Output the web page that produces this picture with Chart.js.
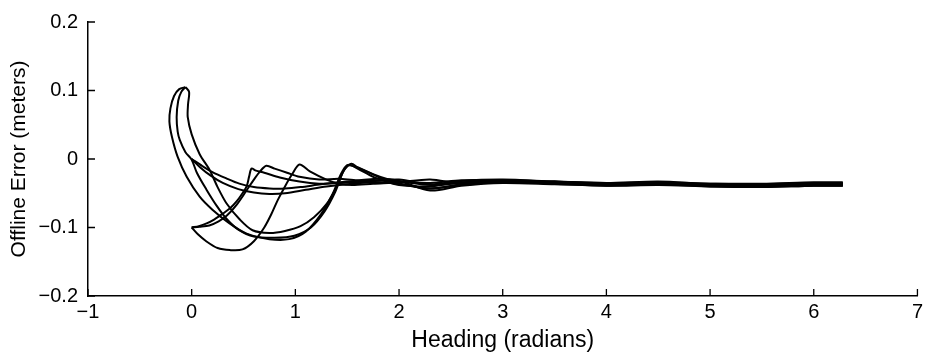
<!DOCTYPE html>
<html>
<head>
<meta charset="utf-8">
<script src="https://cdn.jsdelivr.net/npm/chart.js@4"></script>
<style>
  html, body { margin: 0; padding: 0; background: #fff; }
  canvas { display: block; }
</style>
</head>
<body>
<canvas id="chart" width="927" height="360"></canvas>
<script>
// axis ticks
const xTicks = [-1, 0, 1, 2, 3, 4, 5, 6, 7];
const xTickLabels = ['\u22121', '0', '1', '2', '3', '4', '5', '6', '7'];
const yTicks = [-0.2, -0.1, 0, 0.1, 0.2];
const yTickLabels = ['\u22120.2', '\u22120.1', '0', '0.1', '0.2'];

// runs, [heading, offline error]
const hookOuter = [[-0.06,0.105],[-0.12,0.102],[-0.17,0.092],[-0.205,0.074],[-0.215,0.055],[-0.19,0.032],[-0.135,0.003],[-0.048,-0.026],[0.077,-0.055],[0.2,-0.074],[0.365,-0.094],[0.53,-0.109],[0.75,-0.117],[0.94,-0.117],[1.1,-0.106],[1.25,-0.08],[1.36,-0.051],[1.44,-0.022],[1.5,-0.009],[1.57,-0.011],[1.71,-0.02],[1.86,-0.03],[2.0,-0.036],[2.3,-0.043],[2.6,-0.038],[3.0,-0.034],[3.5,-0.036],[4.0,-0.039],[4.5,-0.038],[5.0,-0.04],[5.5,-0.041],[6.0,-0.039],[6.28,-0.039]];
const hookMiddle = [[-0.06,0.105],[-0.1,0.098],[-0.13,0.085],[-0.145,0.061],[-0.135,0.04],[-0.115,0.028],[-0.06,0.01],[0,-0.001],[0.05,-0.02],[0.14,-0.044],[0.24,-0.068],[0.34,-0.088],[0.45,-0.103],[0.6,-0.113],[0.8,-0.115],[0.99,-0.112],[1.15,-0.1],[1.28,-0.077],[1.385,-0.048],[1.46,-0.019],[1.52,-0.009],[1.6,-0.014],[1.75,-0.026],[1.9,-0.034],[2.0,-0.038],[2.3,-0.04],[2.6,-0.034],[3.0,-0.033],[3.5,-0.035],[4.0,-0.036],[4.5,-0.035],[5.0,-0.038],[5.5,-0.038],[6.0,-0.036],[6.28,-0.036]];
const hookInner = [[-0.06,0.105],[-0.025,0.098],[-0.035,0.08],[-0.038,0.061],[0,0.036],[0.077,0.007],[0.173,-0.016],[0.25,-0.041],[0.337,-0.065],[0.462,-0.088],[0.587,-0.104],[0.75,-0.108],[0.9,-0.105],[1.05,-0.098],[1.18,-0.085],[1.3,-0.066],[1.4,-0.04],[1.47,-0.016],[1.54,-0.007],[1.6,-0.012],[1.75,-0.022],[1.9,-0.03],[2.0,-0.033],[2.3,-0.035],[2.6,-0.031],[3.0,-0.031],[3.5,-0.033],[4.0,-0.035],[4.5,-0.034],[5.0,-0.036],[5.5,-0.037],[6.0,-0.035],[6.28,-0.035]];
const startLowA = [[0,-0.1],[0.07,-0.098],[0.144,-0.094],[0.22,-0.088],[0.298,-0.08],[0.37,-0.072],[0.433,-0.062],[0.49,-0.05],[0.53,-0.04],[0.555,-0.025],[0.577,-0.014],[0.62,-0.017],[0.7,-0.02],[0.85,-0.027],[1.04,-0.033],[1.23,-0.036],[1.42,-0.035],[1.7,-0.033],[2.0,-0.03],[2.3,-0.037],[2.6,-0.032],[3.0,-0.03],[3.5,-0.033],[4.0,-0.035],[4.5,-0.033],[5.0,-0.036],[5.5,-0.036],[6.0,-0.034],[6.28,-0.034]];
const startLowB = [[0,-0.1],[0.077,-0.099],[0.17,-0.097],[0.26,-0.091],[0.337,-0.083],[0.433,-0.067],[0.529,-0.046],[0.6,-0.03],[0.66,-0.018],[0.72,-0.01],[0.8,-0.014],[0.92,-0.02],[1.04,-0.026],[1.23,-0.03],[1.42,-0.029],[1.6,-0.031],[1.8,-0.029],[2.0,-0.032],[2.3,-0.046],[2.6,-0.039],[3.0,-0.035],[3.5,-0.037],[4.0,-0.039],[4.5,-0.037],[5.0,-0.04],[5.5,-0.041],[6.0,-0.039],[6.28,-0.039]];
const startLowC = [[0,-0.1],[0.06,-0.11],[0.14,-0.12],[0.25,-0.13],[0.37,-0.133],[0.49,-0.132],[0.6,-0.12],[0.7,-0.1],[0.77,-0.08],[0.83,-0.06],[0.9,-0.04],[0.97,-0.022],[1.04,-0.008],[1.14,-0.018],[1.3,-0.03],[1.42,-0.036],[1.55,-0.038],[1.75,-0.036],[2.0,-0.034],[2.3,-0.03],[2.6,-0.036],[3.0,-0.032],[3.5,-0.034],[4.0,-0.037],[4.5,-0.036],[5.0,-0.038],[5.5,-0.039],[6.0,-0.037],[6.28,-0.036]];
const startZeroA = [[0,0],[0.1,-0.01],[0.2,-0.019],[0.33,-0.028],[0.46,-0.036],[0.6,-0.041],[0.75,-0.043],[0.9,-0.043],[1.05,-0.041],[1.25,-0.037],[1.5,-0.033],[1.75,-0.031],[2.0,-0.033],[2.3,-0.038],[2.6,-0.035],[3.0,-0.031],[3.5,-0.033],[4.0,-0.036],[4.5,-0.035],[5.0,-0.037],[5.5,-0.038],[6.0,-0.036],[6.28,-0.036]];
const startZeroB = [[0,0],[0.08,-0.012],[0.18,-0.024],[0.3,-0.035],[0.45,-0.044],[0.6,-0.049],[0.75,-0.051],[0.9,-0.05],[1.1,-0.045],[1.3,-0.04],[1.55,-0.036],[1.8,-0.034],[2.0,-0.036],[2.3,-0.043],[2.6,-0.037],[3.0,-0.033],[3.5,-0.035],[4.0,-0.037],[4.5,-0.036],[5.0,-0.038],[5.5,-0.039],[6.0,-0.037],[6.28,-0.038]];

const runs = [hookOuter, hookMiddle, hookInner, startLowA, startLowB, startLowC, startZeroA, startZeroB];

// ticks pointing into the plot, like the original
const inwardTicks = {
  id: 'inwardTicks',
  afterDraw(chart) {
    const {ctx, chartArea: {left, bottom}, scales: {x, y}} = chart;
    ctx.save();
    ctx.strokeStyle = '#000';
    ctx.lineWidth = 1.3;
    ctx.beginPath();
    xTicks.forEach(v => {
      const px = x.getPixelForValue(v);
      ctx.moveTo(px, bottom);
      ctx.lineTo(px, bottom - 7);
    });
    yTicks.forEach(v => {
      const py = y.getPixelForValue(v);
      ctx.moveTo(left, py);
      ctx.lineTo(left + 7, py);
    });
    ctx.stroke();
    ctx.restore();
  }
};

const family = '"Liberation Sans", Arial, sans-serif';
const tickFont = { family: family, size: 20 };

new Chart(document.getElementById('chart'), {
  type: 'scatter',
  data: {
    datasets: runs.map(r => ({
      data: r.map(p => ({ x: p[0], y: p[1] })),
      showLine: true,
      borderColor: '#000',
      borderWidth: 2,
      pointRadius: 0,
      tension: 0.3,
      fill: false
    }))
  },
  options: {
    responsive: false,
    animation: false,
    layout: { padding: { top: 22, right: 7, left: 0, bottom: 0 } },
    plugins: {
      legend: { display: false },
      tooltip: { enabled: false }
    },
    scales: {
      x: {
        type: 'linear',
        min: -1,
        max: 7,
        afterBuildTicks: s => { s.ticks = xTicks.map(v => ({ value: v })); },
        afterFit: s => { s.height = 64; },
        ticks: {
          color: '#000',
          font: tickFont,
          padding: 4,
          maxRotation: 0,
          callback: (v, i) => xTickLabels[i]
        },
        grid: { display: true, drawOnChartArea: false, drawTicks: false },
        border: { display: true, color: '#000', width: 1.5 },
        title: {
          display: true,
          text: 'Heading (radians)',
          color: '#000',
          font: { family: family, size: 23 },
          padding: { top: 0, bottom: 6 }
        }
      },
      y: {
        type: 'linear',
        min: -0.2,
        max: 0.2,
        afterBuildTicks: s => { s.ticks = yTicks.map(v => ({ value: v })); },
        afterFit: s => { s.width = 88; },
        ticks: {
          color: '#000',
          font: tickFont,
          padding: 10,
          callback: (v, i) => yTickLabels[i]
        },
        grid: { display: true, drawOnChartArea: false, drawTicks: false },
        border: { display: true, color: '#000', width: 1.5 },
        title: {
          display: true,
          text: 'Offline Error (meters)',
          color: '#000',
          font: { family: family, size: 21 },
          padding: { top: 7, bottom: 0 }
        }
      }
    }
  },
  plugins: [inwardTicks]
});
</script>
</body>
</html>
